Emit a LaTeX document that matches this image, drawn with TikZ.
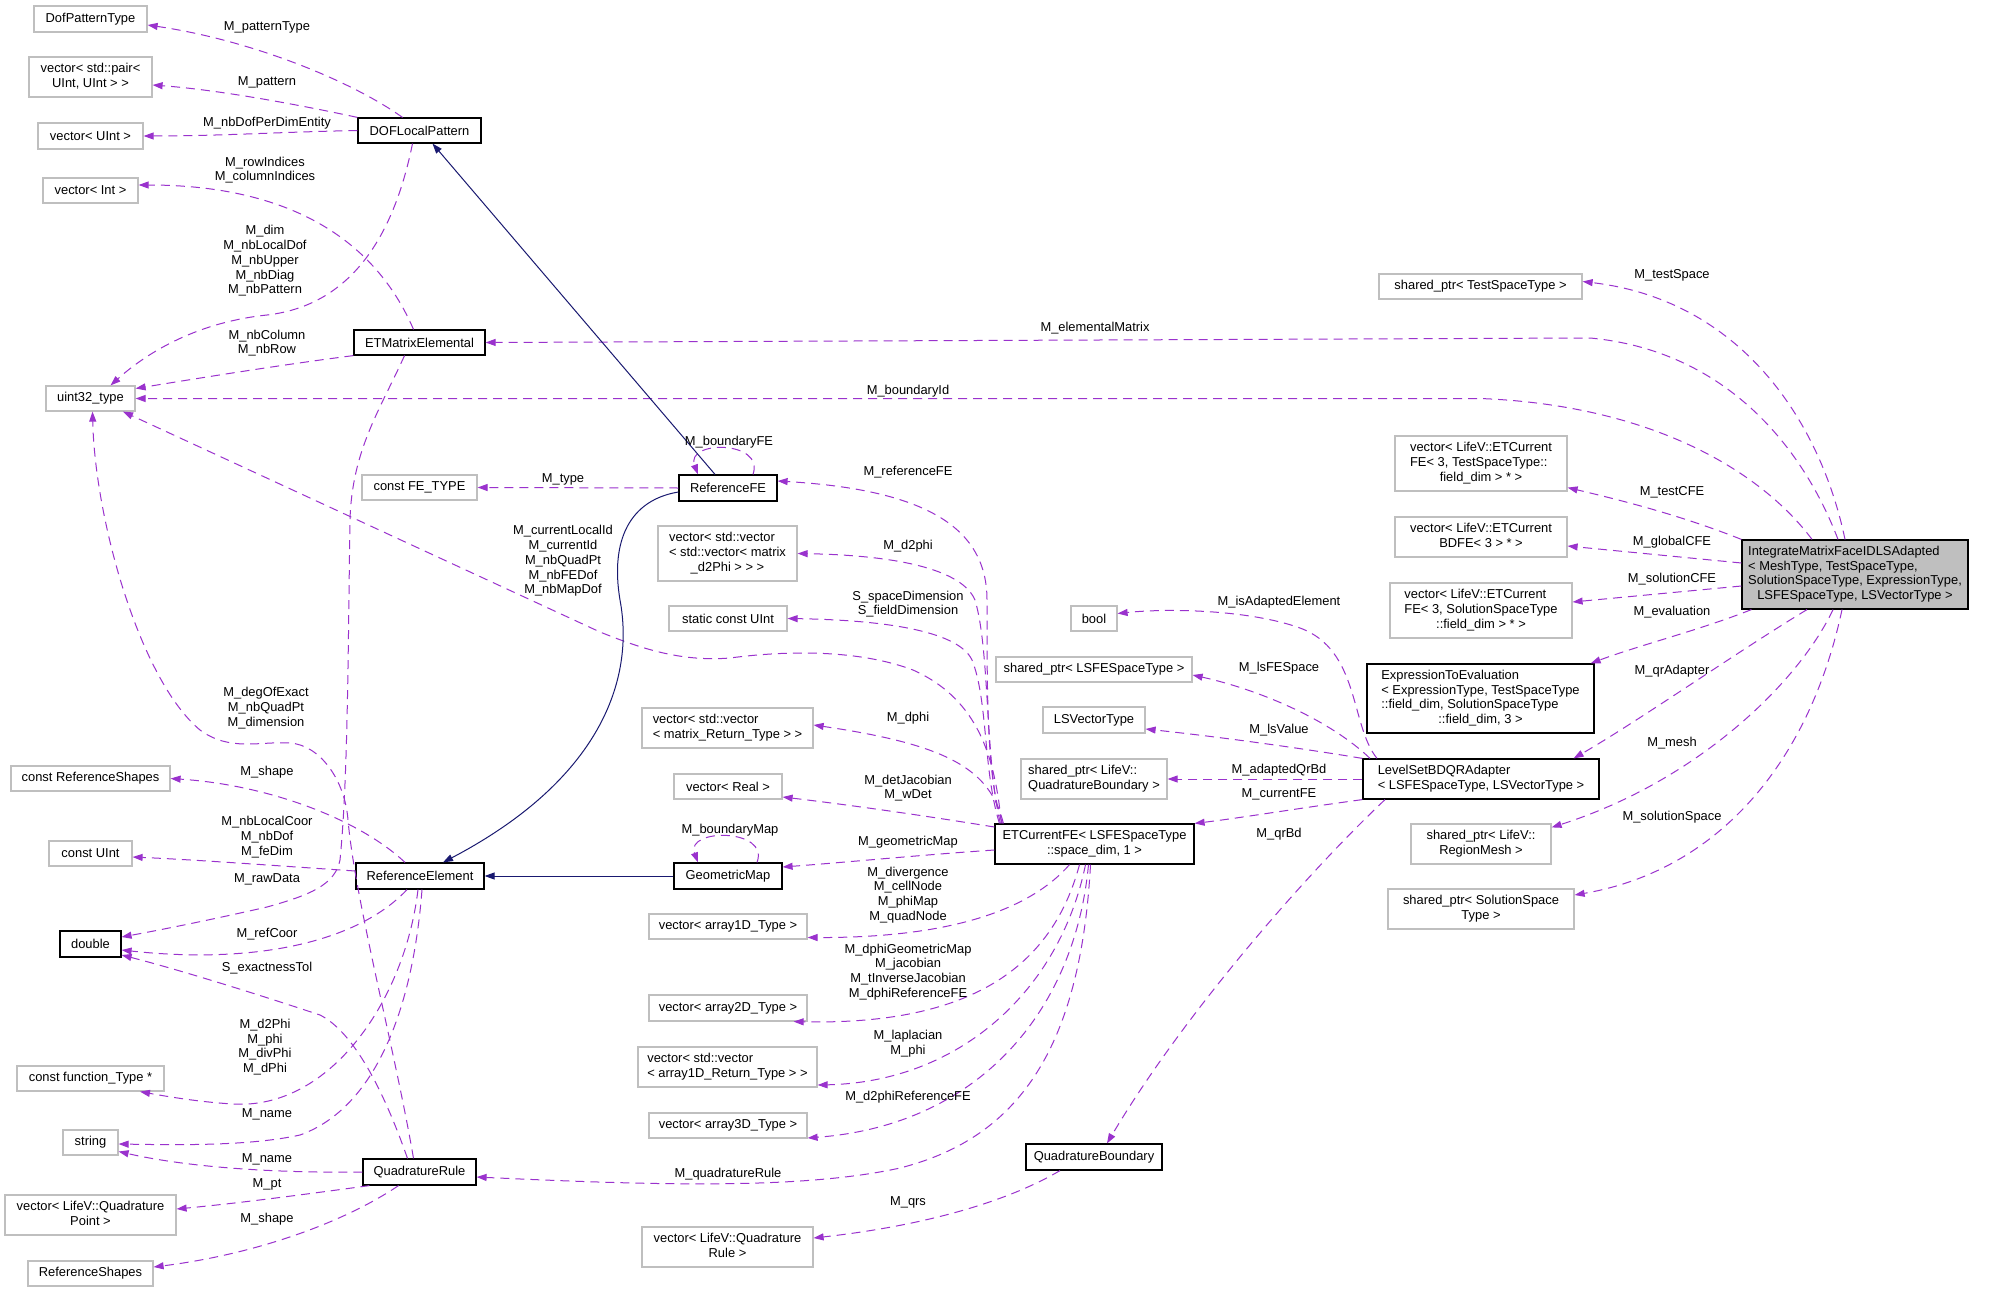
\documentclass[tikz,border=0pt]{standalone}
\usepackage{fontspec}
\setmainfont{Liberation Sans}
\usetikzlibrary{arrows.meta}
\definecolor{dorchid}{HTML}{9A32CD}
\definecolor{mnavy}{HTML}{191970}
\definecolor{bgray}{HTML}{BFBFBF}
\newcommand{\mlbox}[2]{\begin{tabular}{@{}l@{}}#1\\\multicolumn{1}{@{}c@{}}{#2}\end{tabular}}
\begin{document}
\begin{tikzpicture}[x=1pt,y=-1pt,
  font=\fontsize{12.9}{14.7}\selectfont,
  sz/.style 2 args={minimum width=#1pt, minimum height=#2pt},
  gbox/.style={draw=bgray, line width=1.2pt, inner sep=0pt, fill=white},
  kbox/.style={draw=black, line width=1.2pt, inner sep=0pt, fill=white},
  dep/.style={draw=dorchid, line width=1pt, dash pattern=on 9pt off 6pt, -{Triangle[length=10pt,width=7pt,fill=dorchid]}},
  inh/.style={draw=mnavy, line width=1pt, -{Triangle[length=10pt,width=7pt,fill=mnavy]}},
  lbl/.style={align=center, inner sep=0pt}]
\useasboundingbox[fill=white] (0,0) rectangle (2004,1292);

% ---------- nodes ----------
\node[gbox,sz={113}{26}] (dpt) at (90.5,19) {DofPatternType};
\node[gbox,sz={123}{40}] (vpair) at (90.5,77) {\mlbox{vector< std::pair<}{UInt, UInt > >}};
\node[gbox,sz={105}{26}] (vuint) at (90.5,136) {vector< UInt >};
\node[kbox,sz={123}{25}] (dof) at (419.5,130.5) {DOFLocalPattern};
\node[gbox,sz={95}{25}] (vint) at (90.5,190.5) {vector< Int >};
\node[kbox,sz={131}{25}] (etm) at (419.5,342.5) {ETMatrixElemental};
\node[gbox,sz={89}{25}] (u32) at (90.5,398.5) {uint32\_type};
\node[gbox,sz={203}{25}] (tst) at (1480.5,286.5) {shared\_ptr< TestSpaceType >};
\node[gbox,sz={115}{25}] (cfe) at (419.5,487.5) {const FE\_TYPE};
\node[kbox,sz={98}{26}] (refFE) at (728,488) {ReferenceFE};
\node[gbox,sz={159}{25}] (crs) at (90.5,778.5) {const ReferenceShapes};
\node[gbox,sz={83}{25}] (cuint) at (90.5,853.5) {const UInt};
\node[kbox,sz={128}{26}] (refEl) at (420,876) {ReferenceElement};
\node[kbox,sz={61}{26}] (dbl) at (90.5,944) {double};
\node[gbox,sz={147}{25}] (cft) at (90.5,1078.5) {const function\_Type *};
\node[gbox,sz={55}{25}] (str) at (90.5,1142.5) {string};
\node[kbox,sz={113}{26}] (qr) at (419.5,1172) {QuadratureRule};
\node[gbox,sz={171}{40}] (vqp) at (90.5,1215) {\mlbox{vector< LifeV::Quadrature}{Point >}};
\node[gbox,sz={125}{25}] (rs) at (90.5,1273.5) {ReferenceShapes};
\node[gbox,sz={139}{55}] (vd2) at (727.5,553.5) {\mlbox{vector< std::vector\\< std::vector< matrix}{\_d2Phi > > >}};
\node[gbox,sz={118}{25}] (scu) at (728,618.5) {static const UInt};
\node[gbox,sz={171}{40}] (vmr) at (727.5,728) {\mlbox{vector< std::vector}{< matrix\_Return\_Type > >}};
\node[gbox,sz={108}{25}] (vreal) at (728,786.5) {vector< Real >};
\node[kbox,sz={108}{26}] (gm) at (728,876) {GeometricMap};
\node[gbox,sz={158}{25}] (va1) at (728,926.5) {vector< array1D\_Type >};
\node[gbox,sz={158}{26}] (va2) at (728,1008) {vector< array2D\_Type >};
\node[gbox,sz={179}{40}] (va1r) at (727.5,1067) {\mlbox{vector< std::vector}{< array1D\_Return\_Type > >}};
\node[gbox,sz={158}{25}] (va3) at (728,1125.5) {vector< array3D\_Type >};
\node[gbox,sz={171}{40}] (vqr) at (727.5,1247) {\mlbox{vector< LifeV::Quadrature}{Rule >}};
\node[kbox,sz={199}{40}] (etc) at (1094.5,844) {\mlbox{ETCurrentFE< LSFESpaceType}{::space\_dim, 1 >}};
\node[kbox,sz={136}{26}] (qb) at (1094,1157) {QuadratureBoundary};
\node[gbox,sz={46}{25}] (bool) at (1094,618.5) {bool};
\node[gbox,sz={196}{25}] (slsfe) at (1094,669.5) {shared\_ptr< LSFESpaceType >};
\node[gbox,sz={102}{26}] (lsvt) at (1094,720) {LSVectorType};
\node[gbox,sz={146}{40}] (sqb) at (1094,779) {\mlbox{shared\_ptr< LifeV::}{QuadratureBoundary >}};
\node[kbox,sz={236}{40}] (lsa) at (1481,779) {\mlbox{LevelSetBDQRAdapter}{< LSFESpaceType, LSVectorType >}};
\node[gbox,sz={172}{55}] (vtcfe) at (1481,463.5) {\mlbox{vector< LifeV::ETCurrent\\FE< 3, TestSpaceType::}{field\_dim > * >}};
\node[gbox,sz={172}{40}] (vbdfe) at (1481,537) {\mlbox{vector< LifeV::ETCurrent}{BDFE< 3 > * >}};
\node[gbox,sz={182}{55}] (vscfe) at (1481,610.5) {\mlbox{vector< LifeV::ETCurrent\\FE< 3, SolutionSpaceType}{::field\_dim > * >}};
\node[kbox,sz={227}{69}] (ete) at (1480.5,698.5) {\mlbox{ExpressionToEvaluation\\< ExpressionType, TestSpaceType\\::field\_dim, SolutionSpaceType}{::field\_dim, 3 >}};
\node[gbox,sz={140}{40}] (srm) at (1481,844) {\mlbox{shared\_ptr< LifeV::}{RegionMesh >}};
\node[gbox,sz={186}{40}] (ssst) at (1481,909) {\mlbox{shared\_ptr< SolutionSpace}{Type >}};
\node[kbox,fill=bgray,sz={226}{69}] (main) at (1855,574.5) {\mlbox{IntegrateMatrixFaceIDLSAdapted\\< MeshType, TestSpaceType,\\SolutionSpaceType, ExpressionType,}{LSFESpaceType, LSVectorType >}};

% ---------- DOFLocalPattern ----------
\draw[dep] ([xshift=-17]dof.north) .. controls (350,80) and (250,40) .. ([yshift=-6]dpt.east);
\draw[dep] (dof.north west) .. controls (300,105) and (220,90) .. ([yshift=-8]vpair.east);
\draw[dep] (dof.west) .. controls (280,132) and (220,136) .. (vuint.east);
\draw[dep] ([xshift=-7]dof.south) .. controls (395,230) and (355,305) .. (267,315) .. controls (200,322) and (150,350) .. ([xshift=20]u32.north);

% ---------- ETMatrixElemental ----------
\draw[dep] ([xshift=-6]etm.north) .. controls (375,240) and (290,185) .. ([yshift=5.5]vint.east);
\draw[dep] (etm.south west) .. controls (280,365) and (200,378) .. ([yshift=10]u32.east);
\draw[dep] ([xshift=-15]etm.south) .. controls (380,410) and (352,450) .. (350,520) .. controls (348,650) and (348,780) .. (340,860) .. controls (335,885) and (310,895) .. (267,907) .. controls (210,920) and (160,930) .. ([yshift=7]dbl.east);

% ---------- main class ----------
\draw[dep] ([xshift=-17]main.north) .. controls (1800,440) and (1720,350) .. (1590,338) -- (etm.east);
\draw[dep] ([xshift=-43]main.north) .. controls (1760,470) and (1650,405) .. (1480,398.5) -- (u32.east);
\draw[dep] ([xshift=-10]main.north) .. controls (1820,420) and (1740,300) .. ([yshift=5]tst.east);
\draw[dep] (main.north west) .. controls (1680,515) and (1620,500) .. ([yshift=4]vtcfe.south east);
\draw[dep] ([yshift=11.5]main.west) -- ([yshift=-9]vbdfe.east);
\draw[dep] ([yshift=-11.5]main.west) -- ([yshift=8.5]vscfe.east);
\draw[dep] ([xshift=10]main.south west) .. controls (1700,630) and (1640,645) .. ([xshift=-4]ete.north east);
\draw[dep] ([xshift=-48]main.south) .. controls (1740,650) and (1640,720) .. ([xshift=-26]lsa.north east);
\draw[dep] ([xshift=-22]main.south) .. controls (1800,680) and (1700,780) .. ([yshift=-4]srm.north east);
\draw[dep] ([xshift=-13]main.south) .. controls (1810,760) and (1720,870) .. ([yshift=14]ssst.east);

% ---------- LevelSetBDQRAdapter ----------
\draw[dep] ([xshift=-104]lsa.north) .. controls (1350,725) and (1360,650) .. (1300,628) .. controls (1250,610) and (1170,608) .. ([yshift=5]bool.east);
\draw[dep] ([xshift=-111]lsa.north) .. controls (1330,720) and (1260,690) .. ([yshift=-5.5]slsfe.east);
\draw[dep] (lsa.north west) .. controls (1300,748) and (1220,737) .. ([yshift=-9]lsvt.east);
\draw[dep] (lsa.west) -- (sqb.east);
\draw[dep] (lsa.south west) .. controls (1300,808) and (1240,818) .. (etc.north east);
\draw[dep] ([xshift=-96]lsa.south) .. controls (1300,880) and (1180,1020) .. ([xshift=13]qb.north);
\draw[dep] ([xshift=-34]qb.south) .. controls (1010,1200) and (930,1225) .. ([yshift=9]vqr.east);

% ---------- ETCurrentFE ----------
\draw[dep] ([xshift=8]etc.north west) .. controls (987,780) and (987,700) .. (987,600) .. controls (987,530) and (930,490) .. ([yshift=7]refFE.east);
\draw[dep] ([xshift=6]etc.north west) .. controls (985,760) and (990,650) .. (975,600) .. controls (960,565) and (880,555) .. (vd2.east);
\draw[dep] ([xshift=5]etc.north west) .. controls (983,770) and (988,700) .. (972,660) .. controls (958,630) and (880,620) .. (scu.east);
\draw[dep] ([xshift=7]etc.north west) .. controls (995,760) and (980,700) .. (913,670) .. controls (860,650) and (790,650) .. (730,658) .. controls (680,662) and (640,648) .. (600,632) -- ([xshift=32.5]u32.south);
\draw[dep] ([xshift=9]etc.north west) .. controls (990,770) and (950,745) .. ([yshift=3]vmr.east);
\draw[dep] ([yshift=17]etc.west) .. controls (920,815) and (850,805) .. ([yshift=-10.5]vreal.east);
\draw[dep] ([yshift=-6]etc.west) .. controls (920,855) and (850,862) .. ([yshift=9]gm.east);
\draw[dep] ([xshift=-25]etc.south) .. controls (1030,910) and (950,938) .. ([yshift=-11]va1.east);
\draw[dep] ([xshift=-15]etc.south) .. controls (1050,975) and (960,1025) .. ([xshift=-14]va2.south east);
\draw[dep] ([xshift=-9]etc.south) .. controls (1060,990) and (960,1082) .. ([yshift=-18]va1r.east);
\draw[dep] ([xshift=-6]etc.south) .. controls (1075,1010) and (980,1125) .. ([yshift=-12.5]va3.east);
\draw[dep] ([xshift=-4]etc.south) .. controls (1080,1060) and (1010,1140) .. (900,1168) .. controls (800,1190) and (650,1185) .. ([yshift=-5]qr.east);

% ---------- ReferenceFE / GeometricMap ----------
\draw[dep] (refFE.west) -- (cfe.east);
\draw[dep] ([xshift=25]refFE.north) .. controls (765,440) and (685,440) .. ([xshift=-30]refFE.north);
\draw[inh] ([yshift=-4]refFE.west) .. controls (630,500) and (610,540) .. (620,600) .. controls (635,680) and (600,780) .. ([xshift=23]refEl.north);
\draw[inh] ([xshift=-13]refFE.north) -- ([xshift=13]dof.south);
\draw[inh] (gm.west) -- (refEl.east);
\draw[dep] ([xshift=29]gm.north) .. controls (770,828) and (685,828) .. ([xshift=-30]gm.north);

% ---------- ReferenceElement ----------
\draw[dep] ([xshift=-15]refEl.north) .. controls (360,820) and (270,785) .. (crs.east);
\draw[dep] ([yshift=5]refEl.west) .. controls (280,866) and (200,860) .. ([yshift=-3.5]cuint.east);
\draw[dep] ([xshift=-13]refEl.south) .. controls (360,940) and (260,965) .. ([yshift=-6]dbl.east);
\draw[dep] ([xshift=-2]refEl.south) .. controls (405,1000) and (330,1110) .. (233,1104) .. controls (200,1102) and (170,1097) .. ([xshift=49.5]cft.south);
\draw[dep] ([xshift=2]refEl.south) .. controls (412,1020) and (370,1110) .. (300,1135) .. controls (250,1146) and (180,1145) .. ([yshift=-1.5]str.east);

% ---------- QuadratureRule ----------
\draw[dep] ([xshift=-6]qr.north) .. controls (395,1050) and (355,900) .. (348,820) .. controls (345,780) and (320,745) .. (290,743) .. controls (260,741) and (230,752) .. (200,730) .. controls (140,680) and (95,520) .. ([xshift=2]u32.south);
\draw[dep] ([xshift=-12]qr.north) .. controls (380,1080) and (350,1030) .. (320,1015) .. controls (260,995) and (180,970) .. ([yshift=-11]dbl.east);
\draw[dep] (qr.west) .. controls (300,1173) and (200,1170) .. ([yshift=-9]str.east);
\draw[dep] ([xshift=7]qr.south west) .. controls (300,1195) and (240,1203) .. ([yshift=6]vqp.east);
\draw[dep] ([xshift=-21]qr.south) .. controls (340,1225) and (250,1255) .. ([yshift=6.5]rs.east);

% ---------- labels ----------
\node[lbl] (l01) at (267,27) {M\_patternType};
\node[lbl] (l02) at (267,82) {M\_pattern};
\node[lbl] (l03) at (267,123) {M\_nbDofPerDimEntity};
\node[lbl] (l04) at (265,170) {M\_rowIndices\\M\_columnIndices};
\node[lbl] (l05) at (265,261) {M\_dim\\M\_nbLocalDof\\M\_nbUpper\\M\_nbDiag\\M\_nbPattern};
\node[lbl] (l06) at (267,343) {M\_nbColumn\\M\_nbRow};
\node[lbl] (l07) at (1672,275) {M\_testSpace};
\node[lbl] (l08) at (1095,328) {M\_elementalMatrix};
\node[lbl] (l09) at (908,391) {M\_boundaryId};
\node[lbl] (l10) at (729,442) {M\_boundaryFE};
\node[lbl] (l11) at (563,479) {M\_type};
\node[lbl] (l12) at (908,472) {M\_referenceFE};
\node[lbl] (l13) at (563,561) {M\_currentLocalId\\M\_currentId\\M\_nbQuadPt\\M\_nbFEDof\\M\_nbMapDof};
\node[lbl] (l14) at (908,546) {M\_d2phi};
\node[lbl] (l15) at (908,604) {S\_spaceDimension\\S\_fieldDimension};
\node[lbl] (l16) at (908,718) {M\_dphi};
\node[lbl] (l17) at (908,788) {M\_detJacobian\\M\_wDet};
\node[lbl] (l18) at (730,830) {M\_boundaryMap};
\node[lbl] (l19) at (908,842) {M\_geometricMap};
\node[lbl] (l20) at (908,895) {M\_divergence\\M\_cellNode\\M\_phiMap\\M\_quadNode};
\node[lbl] (l21) at (908,972) {M\_dphiGeometricMap\\M\_jacobian\\M\_tInverseJacobian\\M\_dphiReferenceFE};
\node[lbl] (l22) at (908,1044) {M\_laplacian\\M\_phi};
\node[lbl] (l23) at (908,1097) {M\_d2phiReferenceFE};
\node[lbl] (l24) at (728,1174) {M\_quadratureRule};
\node[lbl] (l25) at (908,1202) {M\_qrs};
\node[lbl] (l26) at (266,708) {M\_degOfExact\\M\_nbQuadPt\\M\_dimension};
\node[lbl] (l27) at (267,772) {M\_shape};
\node[lbl] (l28) at (267,837) {M\_nbLocalCoor\\M\_nbDof\\M\_feDim};
\node[lbl] (l29) at (267,879) {M\_rawData};
\node[lbl] (l30) at (267,934) {M\_refCoor};
\node[lbl] (l31) at (267,968) {S\_exactnessTol};
\node[lbl] (l32) at (265,1047) {M\_d2Phi\\M\_phi\\M\_divPhi\\M\_dPhi};
\node[lbl] (l33) at (267,1114) {M\_name};
\node[lbl] (l34) at (267,1159) {M\_name};
\node[lbl] (l35) at (267,1184) {M\_pt};
\node[lbl] (l36) at (267,1219) {M\_shape};
\node[lbl] (l37) at (1279,602) {M\_isAdaptedElement};
\node[lbl] (l38) at (1279,668) {M\_lsFESpace};
\node[lbl] (l39) at (1279,730) {M\_lsValue};
\node[lbl] (l40) at (1279,770) {M\_adaptedQrBd};
\node[lbl] (l41) at (1279,794) {M\_currentFE};
\node[lbl] (l42) at (1279,834) {M\_qrBd};
\node[lbl] (l43) at (1672,492) {M\_testCFE};
\node[lbl] (l44) at (1672,542) {M\_globalCFE};
\node[lbl] (l45) at (1672,579) {M\_solutionCFE};
\node[lbl] (l46) at (1672,612) {M\_evaluation};
\node[lbl] (l47) at (1672,671) {M\_qrAdapter};
\node[lbl] (l48) at (1672,743) {M\_mesh};
\node[lbl] (l49) at (1672,817) {M\_solutionSpace};
\end{tikzpicture}
\end{document}
